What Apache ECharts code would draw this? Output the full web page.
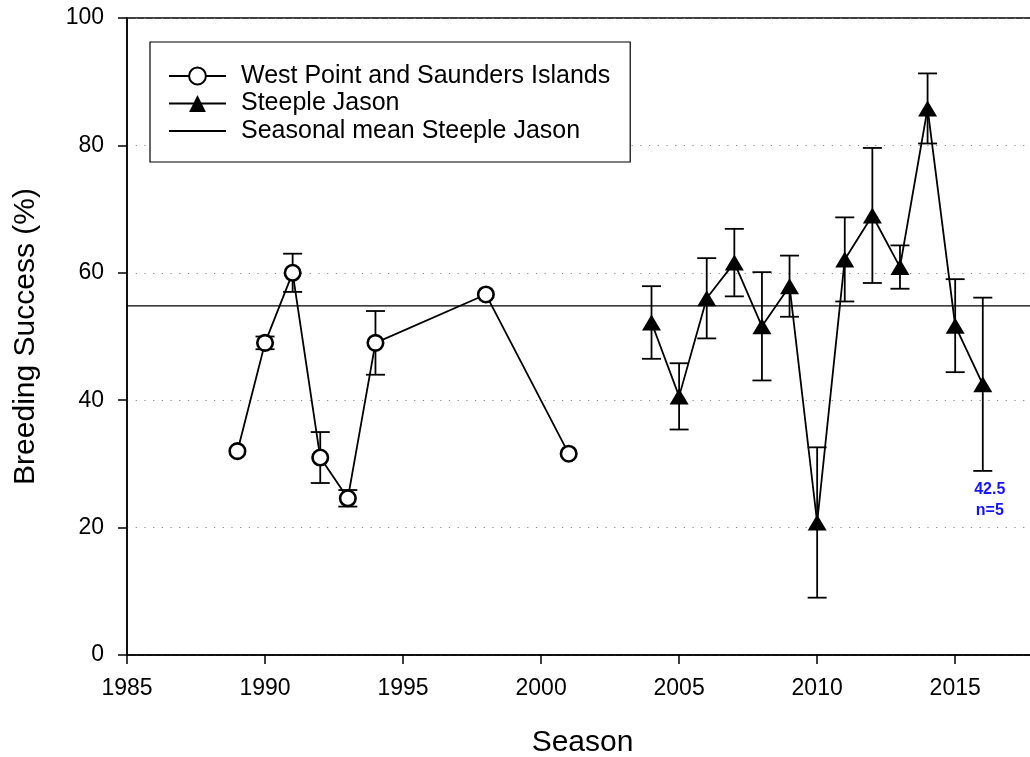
<!DOCTYPE html>
<html>
<head>
<meta charset="utf-8">
<script src="https://cdn.jsdelivr.net/npm/echarts@6/dist/echarts.min.js"></script>
<style>
html,body{margin:0;padding:0;background:#fff;}
#chart{width:1030px;height:757px;}
</style>
</head>
<body>
<div id="chart"></div>
<script>
// ---- data ----
const wpYears  = [1989, 1990, 1991, 1992, 1993, 1994, 1998, 2001];
const wpValues = [32.0, 49.0, 60.0, 31.0, 24.6, 49.0, 56.6, 31.6];
const wpErrors = [null, 1.0, 3.0, 4.0, 1.3, 5.0, null, null];

const sjYears  = [2004, 2005, 2006, 2007, 2008, 2009, 2010, 2011, 2012, 2013, 2014, 2015, 2016];
const sjValues = [52.2, 40.6, 56.0, 61.6, 51.6, 57.9, 20.8, 62.1, 69.0, 60.9, 85.8, 51.7, 42.5];
const sjErrors = [5.7, 5.2, 6.3, 5.3, 8.5, 4.8, 11.8, 6.6, 10.6, 3.4, 5.5, 7.3, 13.6];

const sjMean = 54.8;
const xMin = 1985, xMax = 2018;
const xTicks = [1985, 1990, 1995, 2000, 2005, 2010, 2015];
const yTicks = [0, 20, 40, 60, 80, 100];
const noteYear = 2016;
const noteValue = 42.5;
const noteText = '42.5\nn=5';

const seriesNames = ['West Point and Saunders Islands', 'Steeple Jason', 'Seasonal mean Steeple Jason'];

// ---- build ----
const FONT = 'Liberation Sans, Arial, Helvetica, sans-serif';
function pairs(xs, ys){ return xs.map((x,i)=>[x, ys[i]]); }
function errData(xs, ys, es){
  const out = [];
  xs.forEach((x,i)=>{ if(es[i] != null) out.push([x, ys[i]-es[i], ys[i]+es[i]]); });
  return out;
}
const allErr = errData(wpYears, wpValues, wpErrors).concat(errData(sjYears, sjValues, sjErrors));

function renderErr(params, api){
  const x = api.value(0);
  const lo = api.coord([x, api.value(1)]);
  const hi = api.coord([x, api.value(2)]);
  const half = 9.5;
  const style = {stroke:'#000', lineWidth:1.8};
  return {
    type:'group',
    children:[
      {type:'line', shape:{x1:lo[0], y1:lo[1], x2:hi[0], y2:hi[1]}, style},
      {type:'line', shape:{x1:hi[0]-half, y1:hi[1], x2:hi[0]+half, y2:hi[1]}, style},
      {type:'line', shape:{x1:lo[0]-half, y1:lo[1], x2:lo[0]+half, y2:lo[1]}, style}
    ]
  };
}

const chart = echarts.init(document.getElementById('chart'), null, {renderer:'canvas'});
chart.setOption({
  animation:false,
  backgroundColor:'#fff',
  textStyle:{fontFamily:FONT},
  grid:{left:127, top:18, right:-8, bottom:102, containLabel:false, outerBoundsMode:'none',
        show:true, borderColor:'#000', borderWidth:1.5},
  legend:{
    data:[
      {name:seriesNames[0]},
      {name:seriesNames[1]},
      {name:seriesNames[2], itemStyle:{opacity:0, borderWidth:0}}
    ],
    orient:'vertical',
    left:150, top:42,
    padding:[21,20,18,18],
    itemGap:1.5,
    itemWidth:57, itemHeight:21,
    borderColor:'#000', borderWidth:1.2,
    backgroundColor:'#fff',
    textStyle:{fontFamily:FONT, fontSize:25, lineHeight:26, color:'#000', padding:[0,0,0,10]},
    selectedMode:false
  },
  xAxis:{
    type:'value', min:xMin, max:xMax, interval:5,
    name:'Season', nameLocation:'middle', nameGap:73,
    nameTextStyle:{fontFamily:FONT, fontSize:30, color:'#000'},
    axisLine:{show:true, onZero:false, lineStyle:{color:'#000', width:1.5}},
    axisTick:{show:true, inside:false, length:9, lineStyle:{color:'#000', width:1.5}},
    axisLabel:{margin:22, fontFamily:FONT, fontSize:23, color:'#000',
      formatter:v=> xTicks.indexOf(v) >= 0 ? String(v) : ''},
    splitLine:{show:false}
  },
  yAxis:{
    type:'value', min:0, max:100, interval:20,
    name:'Breeding Success (%)', nameLocation:'middle', nameGap:86,
    nameTextStyle:{fontFamily:FONT, fontSize:30, color:'#000'},
    axisLine:{show:true, lineStyle:{color:'#000', width:1.5}},
    axisTick:{show:true, inside:false, length:9, lineStyle:{color:'#000', width:1.5}},
    axisLabel:{margin:23, fontFamily:FONT, fontSize:23, color:'#000',
      formatter:v=> yTicks.indexOf(v) >= 0 ? String(v) : ''},
    splitLine:{show:true, lineStyle:{color:'#888', width:1, type:[1.2,7.5]}}
  },
  series:[
    {
      type:'custom', name:'errors', renderItem:renderErr, data:allErr,
      encode:{x:0, y:[1,2]}, z:1, silent:true
    },
    {
      type:'line', name:seriesNames[0], data:pairs(wpYears, wpValues), z:3,
      symbol:'circle', symbolSize:15.5,
      lineStyle:{color:'#000', width:1.8},
      itemStyle:{color:'#fff', borderColor:'#000', borderWidth:2.6},
      silent:true
    },
    {
      type:'line', name:seriesNames[1], data:pairs(sjYears, sjValues), z:3,
      symbol:'triangle', symbolSize:[19,16],
      lineStyle:{color:'#000', width:1.8},
      itemStyle:{color:'#000', borderColor:'#000', borderWidth:0},
      silent:true,
      markPoint:{
        silent:true,
        symbol:'circle', symbolSize:0,
        data:[{coord:[noteYear, noteValue], value:noteText}],
        label:{show:true, formatter:noteText, color:'#1414ff', fontFamily:FONT, fontWeight:'bold',
          fontSize:16, lineHeight:21, align:'center', verticalAlign:'middle', offset:[7,116]}
      }
    },
    {
      type:'line', name:seriesNames[2], data:[[xMin, sjMean],[xMax, sjMean]], z:2,
      symbol:'none', showSymbol:false,
      lineStyle:{color:'#000', width:1.2},
      itemStyle:{color:'#000'},
      silent:true
    }
  ]
});
</script>
</body>
</html>
